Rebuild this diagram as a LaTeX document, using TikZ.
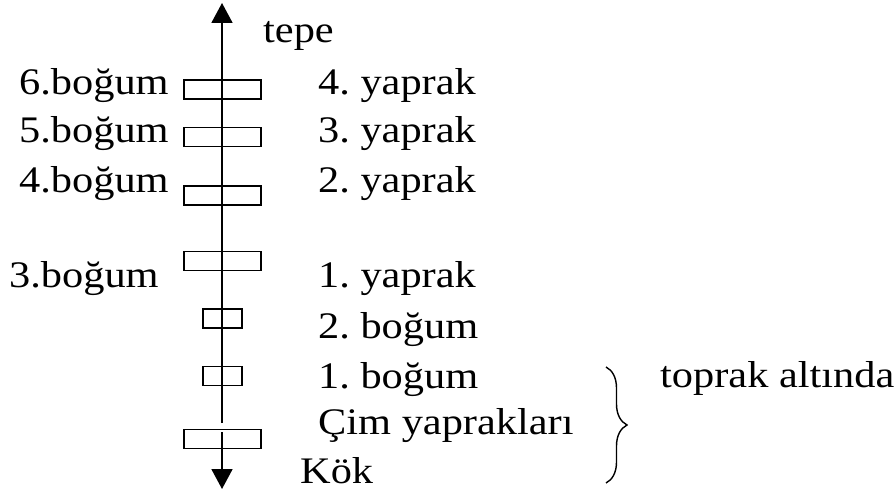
\documentclass[tikz,border=0pt]{standalone}
\usepackage{fontspec}
\setmainfont{Liberation Serif}[FakeStretch=1.13]
\usetikzlibrary{arrows.meta,decorations.pathreplacing}
\frenchspacing
\begin{document}
\begin{tikzpicture}[x=1pt,y=-1pt,
  lbl/.style={anchor=base west,inner sep=0pt,font=\fontsize{37.5}{40}\selectfont},
  bigbox/.style={draw,line width=1.8pt,minimum width=77pt,minimum height=19pt,inner sep=0pt},
  smallbox/.style={draw,line width=1.8pt,minimum width=39pt,minimum height=19pt,inner sep=0pt},
  axis/.style={line width=1.8pt,-{Triangle[length=20pt,width=21pt]}}]
\useasboundingbox (0,0) rectangle (896,495);
% boxes
\node[bigbox] (r1) at (222.5,89.5) {};
\node[bigbox] (r2) at (222.5,137) {};
\node[bigbox] (r3) at (222.5,195.5) {};
\node[bigbox] (r4) at (222.5,261) {};
\node[smallbox] (r5) at (222.5,318.5) {};
\node[smallbox] (r6) at (222.5,376) {};
\node[bigbox] (r7) at (222.5,439) {};
% axis
\coordinate (gapT) at (222,423);
\coordinate (top) at (222,3);
\coordinate (gapB) at (222,432);
\coordinate (bot) at (222,489);
\draw[axis] (gapT) -- (top);
\draw[axis] (gapB) -- (bot);
% left labels
\node[lbl] (b6) at (19,94) {6.boğum};
\node[lbl] (b5) at (19,142) {5.boğum};
\node[lbl] (b4) at (19,192) {4.boğum};
\node[lbl] (b3) at (9,287) {3.boğum};
% right labels
\node[lbl] (tepe) at (263,43) {tepe};
\node[lbl] (y4) at (318,94) {4. yaprak};
\node[lbl] (y3) at (318,142) {3. yaprak};
\node[lbl] (y2) at (318,192) {2. yaprak};
\node[lbl] (y1) at (318,287) {1. yaprak};
\node[lbl] (b2) at (318,338) {2. boğum};
\node[lbl] (b1) at (318,388) {1. boğum};
\node[lbl] (cim) at (318,434) {Çim yaprakları};
\node[lbl] (kok) at (300,483) {Kök};
\node[lbl] (toprak) at (660,387) {toprak altında};
% brace
\coordinate (brT) at (606,367);
\coordinate (brB) at (606,483);
\draw[line width=1.4pt,decorate,decoration={brace,amplitude=21pt}] (brT) -- (brB);
\end{tikzpicture}
\end{document}
